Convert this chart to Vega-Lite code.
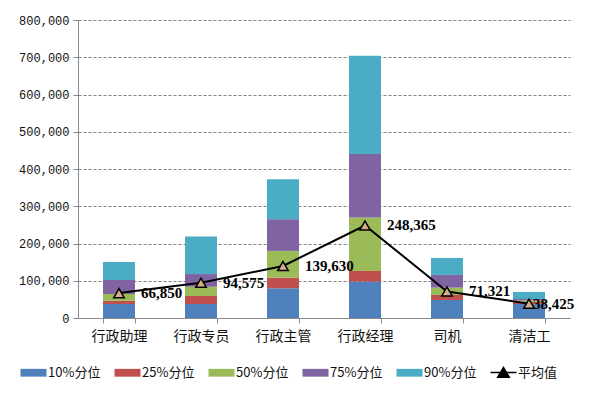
{
  "$schema": "https://vega.github.io/schema/vega-lite/v6.json",
  "width": 492,
  "height": 298,
  "autosize": {"type": "none"},
  "padding": {"left": 78, "top": 20, "right": 30, "bottom": 86},
  "background": "white",
  "config": {
    "view": {"stroke": null},
    "axis": {"labelColor": "#111", "domainColor": "#8a8a8a", "tickColor": "#8a8a8a", "tickSize": 5}
  },
  "datasets": {
    "bars": [
      {"cat": "行政助理", "pct": "10%分位", "value": 37600},
      {"cat": "行政助理", "pct": "25%分位", "value": 8900},
      {"cat": "行政助理", "pct": "50%分位", "value": 18000},
      {"cat": "行政助理", "pct": "75%分位", "value": 37500},
      {"cat": "行政助理", "pct": "90%分位", "value": 48500},
      {"cat": "行政专员", "pct": "10%分位", "value": 37600},
      {"cat": "行政专员", "pct": "25%分位", "value": 21400},
      {"cat": "行政专员", "pct": "50%分位", "value": 25000},
      {"cat": "行政专员", "pct": "75%分位", "value": 34000},
      {"cat": "行政专员", "pct": "90%分位", "value": 100500},
      {"cat": "行政主管", "pct": "10%分位", "value": 79800},
      {"cat": "行政主管", "pct": "25%分位", "value": 28500},
      {"cat": "行政主管", "pct": "50%分位", "value": 71800},
      {"cat": "行政主管", "pct": "75%分位", "value": 85200},
      {"cat": "行政主管", "pct": "90%分位", "value": 107500},
      {"cat": "行政经理", "pct": "10%分位", "value": 97700},
      {"cat": "行政经理", "pct": "25%分位", "value": 28600},
      {"cat": "行政经理", "pct": "50%分位", "value": 143300},
      {"cat": "行政经理", "pct": "75%分位", "value": 170400},
      {"cat": "行政经理", "pct": "90%分位", "value": 264000},
      {"cat": "司机", "pct": "10%分位", "value": 48400},
      {"cat": "司机", "pct": "25%分位", "value": 13400},
      {"cat": "司机", "pct": "50%分位", "value": 19700},
      {"cat": "司机", "pct": "75%分位", "value": 34100},
      {"cat": "司机", "pct": "90%分位", "value": 45700},
      {"cat": "清洁工", "pct": "10%分位", "value": 37600},
      {"cat": "清洁工", "pct": "25%分位", "value": 5400},
      {"cat": "清洁工", "pct": "50%分位", "value": 4000},
      {"cat": "清洁工", "pct": "75%分位", "value": 4000},
      {"cat": "清洁工", "pct": "90%分位", "value": 19000}
    ],
    "avg": [
      {"cat": "行政助理", "value": 66850},
      {"cat": "行政专员", "value": 94575},
      {"cat": "行政主管", "value": 139630},
      {"cat": "行政经理", "value": 248365},
      {"cat": "司机", "value": 71321},
      {"cat": "清洁工", "value": 38425}
    ]
  },
  "encoding": {
    "x": {
      "field": "cat", "type": "nominal", "sort": null,
      "scale": {"paddingInner": 0.61, "paddingOuter": 0.305},
      "axis": {
        "title": null, "labelAngle": 0, "labelFont": "Noto Sans CJK SC", "labelFontSize": 14,
        "labelPadding": 6, "tickBand": "extent", "grid": false
      }
    },
    "y": {
      "field": "value", "type": "quantitative",
      "scale": {"domain": [0, 800000], "nice": false},
      "axis": {
        "title": null, "values": [0, 100000, 200000, 300000, 400000, 500000, 600000, 700000, 800000],
        "format": ",.0f", "labelFont": "Liberation Mono", "labelFontSize": 12, "labelPadding": 4,
        "grid": true, "gridColor": "#7f7f7f", "gridDash": [3, 2], "gridWidth": 1
      }
    }
  },
  "layer": [
    {
      "data": {"name": "bars"},
      "mark": {"type": "bar"},
      "encoding": {
        "color": {
          "field": "pct", "type": "nominal",
          "scale": {
            "domain": ["10%分位", "25%分位", "50%分位", "75%分位", "90%分位", "平均值"],
            "range": ["#4F81BD", "#C0504D", "#9BBB59", "#8064A2", "#4BACC6", "#000000"]
          },
          "legend": {
            "title": null, "orient": "none", "direction": "horizontal", "columns": 6,
            "legendX": -51, "legendY": 346, "gridAlign": "all", "columnPadding": 10,
            "labelFont": "Noto Sans CJK SC", "labelFontSize": 13, "labelColor": "#111", "labelOffset": 8,
            "symbolSize": 676, "symbolType": "M-1,-0.3H1V0.3H-1Z", "symbolStrokeWidth": 0,
            "encode": {
              "symbols": {
                "update": {
                  "shape": {"signal": "datum.label === '平均值' ? 'M-1,0H1M-0.45,0.36L0,-0.4L0.45,0.36Z' : 'M-1,-0.3H1V0.3H-1Z'"},
                  "fill": {"signal": "datum.label === '平均值' ? '#D4AE88' : scale('color', datum.value)"},
                  "fillOpacity": {"value": 1},
                  "stroke": {"signal": "datum.label === '平均值' ? '#000000' : 'transparent'"},
                  "strokeWidth": {"signal": "datum.label === '平均值' ? 1.4 : 0"},
                  "opacity": {"value": 1},
                  "size": {"value": 676}
                }
              }
            }
          }
        },
        "order": {"field": "pct", "type": "nominal", "sort": "ascending"}
      }
    },
    {
      "data": {"name": "avg"},
      "mark": {"type": "line", "strokeWidth": 2},
      "encoding": {
        "color": {"datum": "平均值"}
      }
    },
    {
      "data": {"name": "avg"},
      "mark": {"type": "point", "shape": "triangle-up", "size": 110, "filled": true, "fill": "#D4AE88", "fillOpacity": 1, "stroke": "#000000", "strokeWidth": 1.5, "opacity": 1},
      "encoding": {}
    },
    {
      "data": {"name": "avg"},
      "transform": [{"filter": "datum.cat !== '清洁工'"}],
      "mark": {"type": "text", "align": "left", "baseline": "middle", "dx": 22, "font": "Liberation Serif", "fontWeight": "bold", "fontSize": 15, "color": "#000000"},
      "encoding": {
        "text": {"field": "value", "type": "quantitative", "format": ","}
      }
    },
    {
      "data": {"name": "avg"},
      "transform": [{"filter": "datum.cat === '清洁工'"}],
      "mark": {"type": "text", "align": "left", "baseline": "middle", "dx": 4, "font": "Liberation Serif", "fontWeight": "bold", "fontSize": 15, "color": "#000000"},
      "encoding": {
        "text": {"field": "value", "type": "quantitative", "format": ","}
      }
    }
  ]
}
